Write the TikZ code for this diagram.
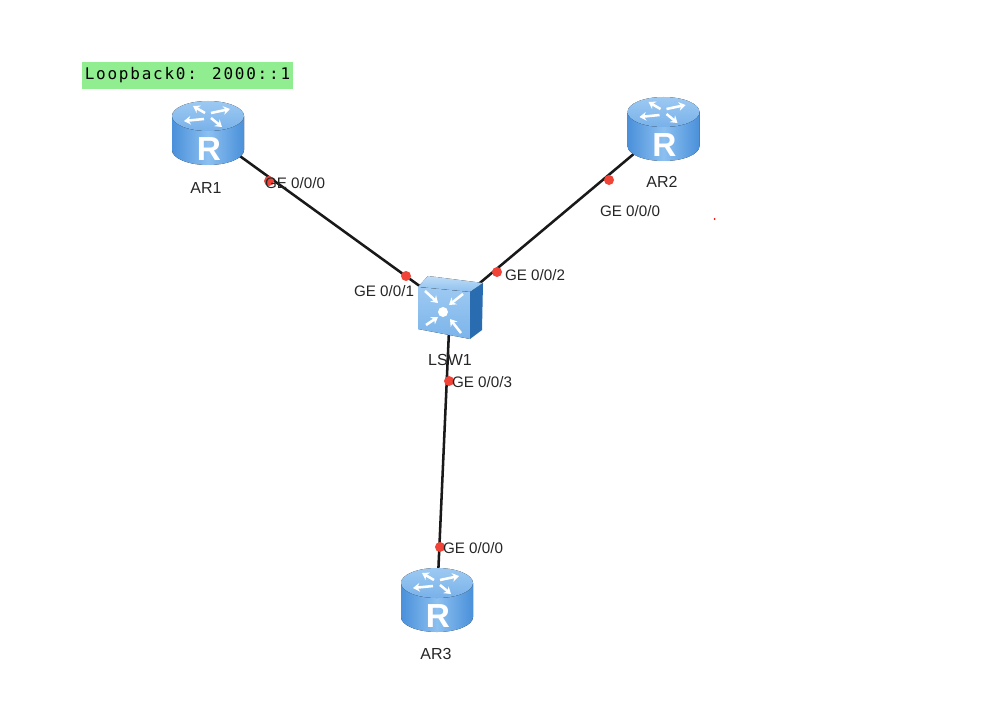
\documentclass[tikz,border=0pt]{standalone}
\usepackage{fontspec}
\setmainfont{Liberation Sans}
\newfontfamily\loopfont[LetterSpace=11]{DejaVu Sans Mono}
\usepackage{xcolor}
\usepackage{tikz}
\usetikzlibrary{arrows.meta, positioning, calc}
\definecolor{linkred}{HTML}{F04438}
\definecolor{loopgreen}{HTML}{90EE90}
\definecolor{iconblue}{HTML}{4A90DA}
\definecolor{iconlight}{HTML}{8CC0F0}
\definecolor{icondark}{HTML}{2A6CB0}

\begin{document}
\begin{tikzpicture}[
        x=0.75pt, y=-0.75pt,
        link/.style={line width=1.9pt, black!90},
        portdot/.style={circle, fill=linkred, draw=none, inner sep=0pt, minimum size=7.5pt},
        portlabel/.style={inner sep=0pt, font=\fontsize{11.4}{14}\selectfont, text=black!85},
        devlabel/.style={inner sep=0pt, font=\fontsize{12}{14}\selectfont, text=black!85},
        looplabel/.style={fill=loopgreen, inner sep=0pt, minimum width=158pt, minimum height=20pt, font=\loopfont\fontsize{12}{14}\selectfont},
        iconarrow/.style={white, line width=1.9pt, -{Stealth[length=5pt, width=6.5pt]}},
        router/.pic={
            \fill[left color=iconblue, right color=iconblue, middle color=iconlight]
                (-36,-17) -- (-36,17) arc[start angle=180, end angle=0, x radius=36, y radius=15] -- (36,-17) -- cycle;
            \fill[top color=iconlight!85!white, bottom color=iconlight!70!iconblue]
                (0,-17) ellipse[x radius=36, y radius=15];
            \draw[iconarrow] (-3,-20) -- (-15,-27);
            \draw[iconarrow] (3,-20) -- (22,-24);
            \draw[iconarrow] (-4,-14) -- (-24,-12);
            \draw[iconarrow] (3,-15) -- (14,-6);
            \node[white, inner sep=0pt, font=\bfseries\fontsize{25}{28}\selectfont] at (1,16.5) {R};
        },
        switchicon/.pic={
            \fill[top color=iconlight!55!white, bottom color=iconlight] (-32,-21) -- (-22,-32) -- (33,-25) -- (20,-16) -- cycle;
            \fill[top color=iconlight!85!white, bottom color=iconlight!75!iconblue] (-32,-21) -- (20,-16) -- (20,31) -- (-32,21) -- cycle;
            \fill[icondark] (20,-16) -- (33,-25) -- (32,22) -- (20,31) -- cycle;
            \fill[white] (-7,4) circle[radius=5];
            \draw[iconarrow] (-25,-17) -- (-12,-5);
            \draw[iconarrow] (13,-14) -- (-1,-3);
            \draw[iconarrow] (-24,17) -- (-12,9);
            \draw[iconarrow] (11,25) -- (0,11);
        }
    ]
        \useasboundingbox (0,0) rectangle (987,716);

        \coordinate (AR1) at (208,133);
        \coordinate (AR2) at (663.5,129);
        \coordinate (AR3) at (437,600);
        \coordinate (LSW1) at (450,308);

        % links go under the icons
        \draw [link] (AR1) -- (LSW1);
        \draw [link] (AR2) -- (LSW1);
        \draw [link] (AR3) -- (LSW1);

        \pic at (AR1) {router};
        \pic at (AR2) {router};
        \pic at (AR3) {router};
        \pic at (LSW1) {switchicon};

        \node [portdot] (dot1) at (269,181) {};
        \node [portdot] (dot2) at (609,180) {};
        \node [portdot] (dot3) at (406,276) {};
        \node [portdot] (dot4) at (497,272) {};
        \node [portdot] (dot5) at (449,381) {};
        \node [portdot] (dot6) at (440,547) {};
        \node [circle, fill=red, inner sep=0pt, minimum size=1.5pt] (speck) at (714.5,219) {};

        \node [looplabel] (loop) at (187.5,75.5) {Loopback0: 2000::1};

        \node [devlabel] (ar1name) at (206,188) {AR1};
        \node [devlabel] (ar2name) at (662,182) {AR2};
        \node [devlabel] (ar3name) at (436,654) {AR3};
        \node [devlabel] (lswname) at (450,360) {LSW1};

        \node [portlabel] (ar1port) at (295,183) {GE 0/0/0};
        \node [portlabel] (ar2port) at (630,211) {GE 0/0/0};
        \node [portlabel] (ar3port) at (473,548) {GE 0/0/0};
        \node [portlabel] (lsw1port) at (384,291) {GE 0/0/1};
        \node [portlabel] (lsw2port) at (535,275) {GE 0/0/2};
        \node [portlabel] (lsw3port) at (482,382) {GE 0/0/3};
\end{tikzpicture}
\end{document}
